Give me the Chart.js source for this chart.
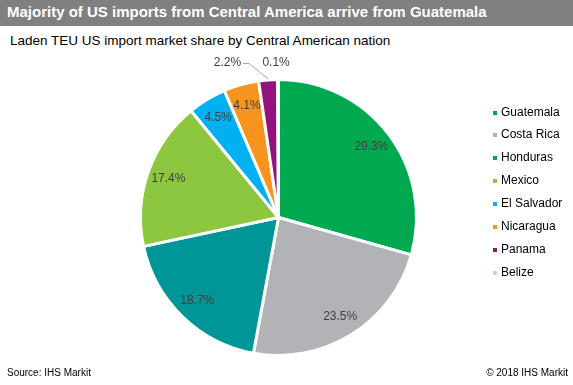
<!DOCTYPE html>
<html>
<head>
<meta charset="utf-8">
<script src="https://cdn.jsdelivr.net/npm/chart.js@4/dist/chart.umd.min.js"></script>
<style>
  html, body { margin:0; padding:0; background:#fff; }
  body { width:573px; height:385px; position:relative; overflow:hidden; font-family:"Liberation Sans", Arial, sans-serif; }
  #titlebar { position:absolute; left:0; top:0; width:573px; height:26px; background:#808080; }
  #title { position:absolute; left:7px; top:3px; color:#fff; font-weight:bold; font-size:15px; line-height:17px; white-space:nowrap; }
  #subtitle { position:absolute; left:10px; top:33px; color:#000; font-size:13.5px; line-height:16px; white-space:nowrap; }
  #legend { position:absolute; left:493px; top:104.5px; }
  .li { height:22.9px; font-size:12px; color:#000; white-space:nowrap; position:relative; }
  .li span.m { position:absolute; left:0; top:6px; width:4px; height:4px; }
  .li span.t { position:absolute; left:8px; top:0; }
  #src { position:absolute; left:7px; top:367px; font-size:10px; color:#000; }
  #copy { position:absolute; right:5px; top:367px; font-size:10px; color:#000; }
  #wrap { position:absolute; left:0; top:0; width:573px; height:385px; }
</style>
</head>
<body>
<div id="titlebar"><div id="title">Majority of US imports from Central America arrive from Guatemala</div></div>
<div id="subtitle">Laden TEU US import market share by Central American nation</div>
<div id="wrap"><canvas id="c" width="573" height="385"></canvas></div>
<div id="legend"></div>
<div id="src">Source: IHS Markit</div>
<div id="copy">© 2018 IHS Markit</div>
<script>
const categories = ["Guatemala", "Costa Rica", "Honduras", "Mexico", "El Salvador", "Nicaragua", "Panama", "Belize"];
const shares = [29.3, 23.5, 18.7, 17.4, 4.5, 4.1, 2.2, 0.1];
const colors = ["#00A94F", "#B1B3B6", "#009597", "#8DC63F", "#00B0F0", "#F7941D", "#93137E", "#F4C2B8"];

// HTML legend built from the arrays
const lg = document.getElementById('legend');
categories.forEach((c, i) => {
  const d = document.createElement('div');
  d.className = 'li';
  d.innerHTML = '<span class="m" style="background:' + colors[i] + '"></span><span class="t">' + c + '</span>';
  lg.appendChild(d);
});

const labelPlugin = {
  id: 'sliceLabels',
  afterDatasetsDraw(chart) {
    const ctx = chart.ctx;
    const meta = chart.getDatasetMeta(0);
    ctx.save();
    ctx.font = '12px "Liberation Sans", Arial, sans-serif';
    ctx.fillStyle = '#404040';
    ctx.textBaseline = 'middle';
    meta.data.forEach((arc, i) => {
      const p = arc.getProps(['x', 'y', 'startAngle', 'endAngle', 'outerRadius'], true);
      const mid = (p.startAngle + p.endAngle) / 2;
      const txt = shares[i].toFixed(1) + '%';
      if (shares[i] >= 3) {
        const r = p.outerRadius * 0.845;
        ctx.textAlign = 'center';
        ctx.fillText(txt, p.x + Math.cos(mid) * r, p.y + Math.sin(mid) * r);
      } else {
        const ly = p.y - p.outerRadius - 17;
        const ax = p.x + Math.cos(mid) * p.outerRadius;
        const ay = p.y + Math.sin(mid) * p.outerRadius;
        if (shares[i] >= 1) {
          // leader line
          ctx.strokeStyle = '#A6A6A6';
          ctx.lineWidth = 1;
          ctx.beginPath();
          ctx.moveTo(ax, ay - 1);
          ctx.lineTo(ax - 19, ly + 1);
          ctx.lineTo(ax - 25, ly + 1);
          ctx.stroke();
          ctx.textAlign = 'right';
          ctx.fillText(txt, ax - 27, ly);
        } else {
          ctx.textAlign = 'center';
          ctx.fillText(txt, ax - 2, ly);
        }
      }
    });
    ctx.restore();
  }
};

new Chart(document.getElementById('c'), {
  type: 'pie',
  data: {
    labels: categories,
    datasets: [{
      data: shares,
      backgroundColor: colors,
      borderColor: '#ffffff',
      borderWidth: 3
    }]
  },
  options: {
    responsive: false,
    animation: false,
    layout: { padding: { left: 139, right: 155, top: 78, bottom: 28 } },
    plugins: {
      legend: { display: false },
      tooltip: { enabled: false }
    }
  },
  plugins: [labelPlugin]
});
</script>
</body>
</html>
